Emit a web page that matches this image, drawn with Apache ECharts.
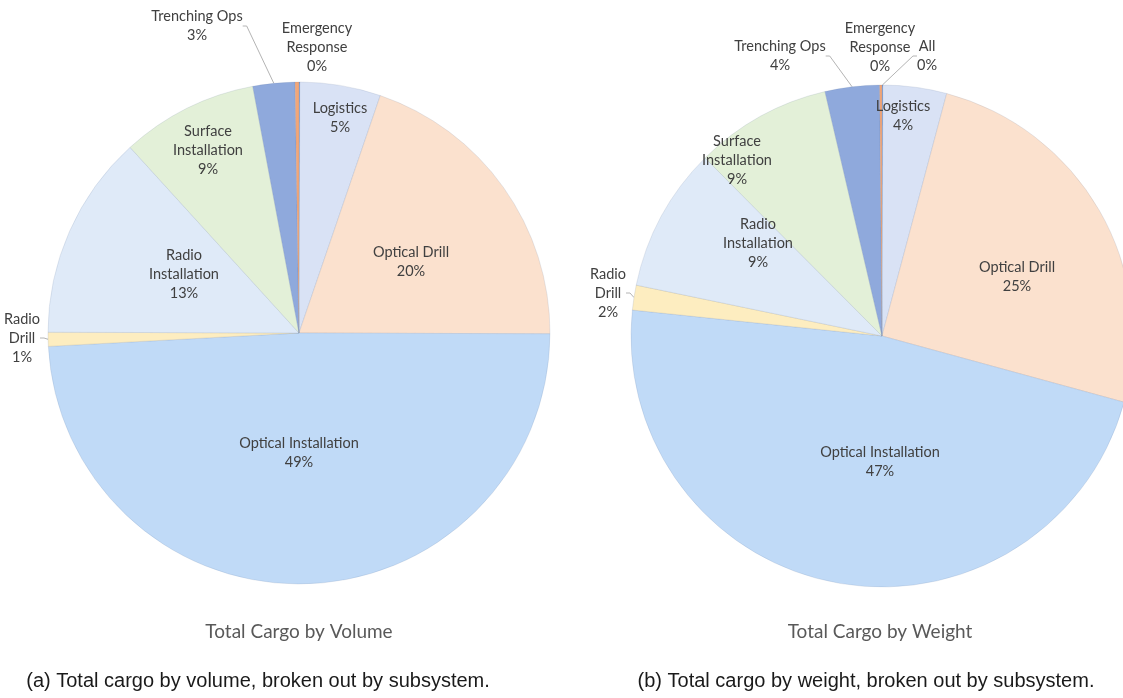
<!DOCTYPE html>
<html>
<head>
<meta charset="utf-8">
<script src="https://cdn.jsdelivr.net/npm/echarts@6/dist/echarts.min.js"></script>
<style>
  html, body { margin: 0; padding: 0; background: #ffffff; }
  #chart { width: 1123px; height: 698px; }
</style>
</head>
<body>
<div id="chart"></div>
<script>
// Subsystems, in drawing order (clockwise from 12 o'clock)
const subsystems = ['All', 'Logistics', 'Optical Drill', 'Optical Installation', 'Radio Drill',
                    'Radio Installation', 'Surface Installation', 'Trenching Ops', 'Emergency Response'];

// Subsystem names as they are wrapped in the slice labels
const labelNames = ['All', 'Logistics', 'Optical Drill', 'Optical Installation', 'Radio\nDrill',
                    'Radio\nInstallation', 'Surface\nInstallation', 'Trenching Ops', 'Emergency\nResponse'];

// Share of total cargo (%) per subsystem
const volumeShare = [0.05, 5.2, 19.8, 49.1, 0.9, 13.2, 8.8, 2.7, 0.25];
const weightShare = [0.05, 4.1, 25.1, 47.4, 1.6, 9.3, 8.8, 3.5, 0.15];

const chartTitles = ['Total Cargo by Volume', 'Total Cargo by Weight'];
const captions = ['(a) Total cargo by volume, broken out by subsystem.',
                  '(b) Total cargo by weight, broken out by subsystem.'];

const sliceColors = {
  'All': '#4f7fcf',
  'Logistics': '#d9e2f5',
  'Optical Drill': '#fbe1ce',
  'Optical Installation': '#c0daf7',
  'Radio Drill': '#fdedc0',
  'Radio Installation': '#dfeaf8',
  'Surface Installation': '#e3f0d8',
  'Trenching Ops': '#8fa9dc',
  'Emergency Response': '#f2a679'
};

// Label centres (px); line = draw a leader line to the slice; hidden = no label
const volumeLabels = {
  'All': { hidden: true },
  'Logistics': { x: 340, y: 118 },
  'Optical Drill': { x: 411, y: 262 },
  'Optical Installation': { x: 299, y: 453 },
  'Radio Drill': { x: 22, y: 338, line: true },
  'Radio Installation': { x: 184, y: 274 },
  'Surface Installation': { x: 208, y: 150 },
  'Trenching Ops': { x: 197, y: 26, line: true },
  'Emergency Response': { x: 317, y: 47 }
};
const weightLabels = {
  'All': { x: 927, y: 56, line: true },
  'Logistics': { x: 903, y: 116 },
  'Optical Drill': { x: 1017, y: 277 },
  'Optical Installation': { x: 880, y: 462 },
  'Radio Drill': { x: 608, y: 293, line: true },
  'Radio Installation': { x: 758, y: 243 },
  'Surface Installation': { x: 737, y: 160 },
  'Trenching Ops': { x: 780, y: 56, line: true },
  'Emergency Response': { x: 880, y: 47 }
};

const PIE_R = 251;
const pies = [
  { center: [299, 333], values: volumeShare, labels: volumeLabels },
  { center: [882, 336], values: weightShare, labels: weightLabels }
];

const labelFont = 'Lato, "Open Sans", sans-serif';

function buildSeries(pie) {
  const data = subsystems.map((name, i) => {
    const pl = pie.labels[name];
    const item = {
      name: name,
      value: pie.values[i],
      itemStyle: { color: sliceColors[name] }
    };
    if (pl.hidden) {
      item.label = { show: false };
      item.labelLine = { show: false };
    } else if (pl.line) {
      item.label = { position: 'outside' };
      item.labelLine = { show: true };
    } else {
      item.label = { position: 'inside' };
      item.labelLine = { show: false };
    }
    return item;
  });
  return {
    type: 'pie',
    center: pie.center,
    radius: [0, PIE_R],
    startAngle: 90,
    clockwise: true,
    percentPrecision: 0,
    avoidLabelOverlap: false,
    animation: false,
    itemStyle: { borderColor: 'rgba(90,110,150,0.18)', borderWidth: 0.8 },
    label: {
      show: true,
      formatter: p => labelNames[p.dataIndex] + '\n' + p.percent + '%',
      color: '#404040',
      fontFamily: labelFont,
      fontSize: 14.5,
      lineHeight: 19,
      align: 'center'
    },
    labelLine: {
      show: true,
      length: 6,
      length2: 4,
      lineStyle: { color: '#b4b4b4', width: 1 }
    },
    labelLayout: function (p) {
      const pl = pie.labels[subsystems[p.dataIndex]];
      if (!pl || pl.hidden) return {};
      return { x: pl.x, y: pl.y, align: 'center', verticalAlign: 'middle' };
    },
    data: data
  };
}

const chart = echarts.init(document.getElementById('chart'), null, { renderer: 'canvas' });

chart.setOption({
  backgroundColor: '#ffffff',
  animation: false,
  series: pies.map(buildSeries),
  graphic: [
    { type: 'text', x: 299, y: 632, style: { text: chartTitles[0], align: 'center', verticalAlign: 'middle',
        fill: '#595959', font: '19px Lato, "Open Sans", sans-serif' } },
    { type: 'text', x: 880, y: 632, style: { text: chartTitles[1], align: 'center', verticalAlign: 'middle',
        fill: '#595959', font: '19px Lato, "Open Sans", sans-serif' } },
    { type: 'text', x: 258, y: 681, style: { text: captions[0], align: 'center', verticalAlign: 'middle',
        fill: '#1a1a1a', font: '20px "Liberation Sans", Arial, sans-serif' } },
    { type: 'text', x: 866, y: 681, style: { text: captions[1], align: 'center', verticalAlign: 'middle',
        fill: '#1a1a1a', font: '20px "Liberation Sans", Arial, sans-serif' } }
  ]
});
</script>
</body>
</html>
